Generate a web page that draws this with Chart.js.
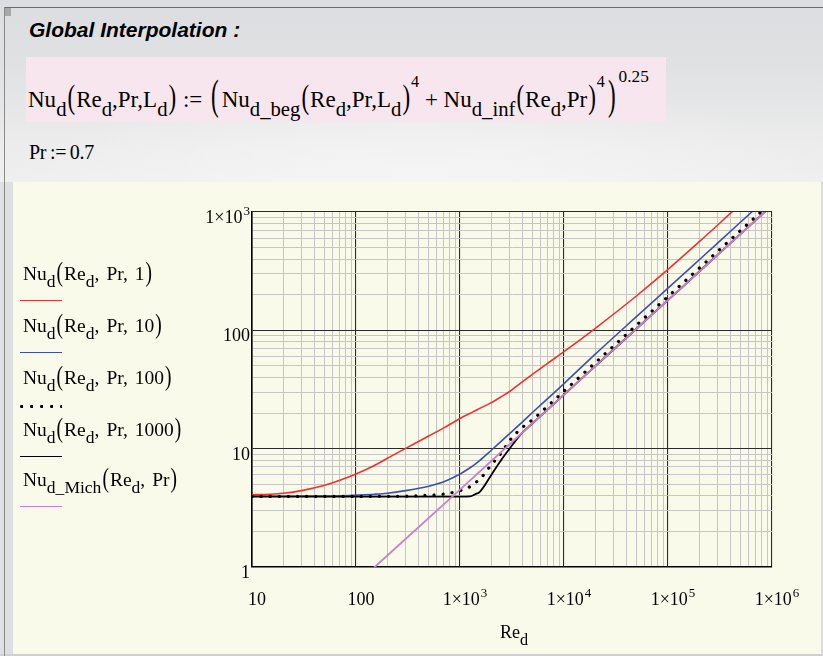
<!DOCTYPE html>
<html><head><meta charset="utf-8">
<script src="https://cdn.jsdelivr.net/npm/chart.js@4/dist/chart.umd.min.js"></script>
<style>
html,body{margin:0;padding:0;}
body{width:823px;height:656px;position:relative;overflow:hidden;background:#f4f4f4;font-family:"Liberation Serif","Times New Roman",serif;color:#000;}
#top{position:absolute;left:0;top:0;width:823px;height:182px;
 background:radial-gradient(ellipse 420px 110px at 420px 190px,#f6f6f6 0%,rgba(246,246,246,0) 100%),linear-gradient(to bottom,#dcdde0 0%,#e0e1e3 35%,#ececec 80%,#efefef 100%);}
#topline{position:absolute;left:4px;top:7px;width:819px;height:1px;background:#6a6a6a;}
#leftline{position:absolute;left:4px;top:7px;width:1px;height:649px;background:#8a8a8a;}
#sq{position:absolute;left:5px;top:8px;width:6px;height:8px;background:#a8a8a8;}
#title{position:absolute;left:29px;top:18px;font-family:"Liberation Sans",Arial,sans-serif;font-weight:bold;font-style:italic;font-size:21px;line-height:24px;white-space:nowrap;}
#formula{position:absolute;left:26px;top:57px;width:640px;height:65px;background:#f8e6ee;}
.f{position:absolute;white-space:nowrap;font-size:23px;line-height:34px;}
.f sub,.lg sub,#xt sub{font-size:0.9em;vertical-align:-0.42em;line-height:0;}
.f sup{font-size:0.7em;vertical-align:1.25em;line-height:0;}
.bp{display:inline-block;transform:scale(1,1.45);transform-origin:50% 62%;margin:0 1px;}
.bp2{display:inline-block;transform:scale(1,1.8);transform-origin:50% 62%;margin:0 3px;}
.lg .bp{transform:scale(1,1.45);}
.cm{margin-right:7px;}
#pr{position:absolute;left:29px;top:138px;font-size:20px;line-height:28px;white-space:nowrap;letter-spacing:-0.3px;}
#bottom{position:absolute;left:13px;top:182px;width:808px;height:472px;background:#fafaeb;}
#leftstrip{position:absolute;left:0;top:182px;width:13px;height:474px;background:#dedfe1;}
#botline{position:absolute;left:0;top:654px;width:823px;height:2px;background:#d0d0d0;}
#rightline{position:absolute;left:821px;top:182px;width:2px;height:474px;background:#dcdcdc;}
canvas#c{position:absolute;left:13px;top:182px;}
.lg{position:absolute;left:23px;font-size:19.5px;line-height:24px;white-space:nowrap;}
.ln{position:absolute;left:20px;width:42px;height:0;}
#xt{position:absolute;left:500px;top:620px;font-size:18px;line-height:24px;}
</style></head>
<body>
<div id="top"></div>
<div id="topline"></div>
<div id="sq"></div>
<div id="title">Global Interpolation :</div>
<div id="formula"></div>
<div class="f" style="left:28px;top:77px;">Nu<sub>d</sub><span class="bp">(</span>Re<sub>d</sub>,Pr,L<sub>d</sub><span class="bp">)</span> := <span class="bp2">(</span>Nu<sub>d_beg</sub><span class="bp">(</span>Re<sub>d</sub>,Pr,L<sub>d</sub><span class="bp">)</span><sup>4</sup> + Nu<sub>d_inf</sub><span class="bp">(</span>Re<sub>d</sub>,Pr<span class="bp">)</span><sup>4</sup><span class="bp2">)</span><sup style="font-size:0.75em;vertical-align:1.45em">0.25</sup></div>
<div id="pr">Pr&thinsp;:=&thinsp;0.7</div>
<div id="leftstrip"></div>
<div id="bottom"></div>
<div id="rightline"></div>
<div id="botline"></div>
<div id="leftline"></div>
<canvas id="c" width="808" height="472"></canvas>

<div class="lg" style="top:262px;">Nu<sub>d</sub><span class="bp">(</span>Re<sub>d</sub><span class="cm">,</span>Pr<span class="cm">,</span>1<span class="bp">)</span></div>
<div class="ln" style="top:300px;border-top:1.5px solid #f03030;"></div>
<div class="lg" style="top:314px;">Nu<sub>d</sub><span class="bp">(</span>Re<sub>d</sub><span class="cm">,</span>Pr<span class="cm">,</span>10<span class="bp">)</span></div>
<div class="ln" style="top:352px;border-top:1.5px solid #3c50aa;"></div>
<div class="lg" style="top:366px;">Nu<sub>d</sub><span class="bp">(</span>Re<sub>d</sub><span class="cm">,</span>Pr<span class="cm">,</span>100<span class="bp">)</span></div>
<div class="ln" style="top:405px;height:3px;background:radial-gradient(circle 1.6px at 1.7px 1.5px,#000 0,#000 1.5px,transparent 1.7px);background-size:10px 3px;"></div>
<div class="lg" style="top:418px;">Nu<sub>d</sub><span class="bp">(</span>Re<sub>d</sub><span class="cm">,</span>Pr<span class="cm">,</span>1000<span class="bp">)</span></div>
<div class="ln" style="top:456px;border-top:1.5px solid #000;"></div>
<div class="lg" style="top:468px;">Nu<sub>d_Mich</sub><span class="bp">(</span>Re<sub>d</sub><span class="cm">,</span>Pr<span class="bp">)</span></div>
<div class="ln" style="top:506px;border-top:1.5px solid #cc80c8;"></div>
<div id="xt">Re<sub>d</sub></div>

<script>
// ---- data ----
const reGrid  = [10, 15, 20, 30, 50, 70, 100, 150, 200, 300, 500, 700, 1000, 1250, 1400, 1550, 2000, 2500, 3000, 3800, 5000, 7000, 1e4, 2e4, 5e4, 1e5, 2e5, 5e5, 1e6];
const nuL1    = [4.08, 4.12, 4.2, 4.42, 4.9, 5.4, 6.1, 7.2, 8.3, 10.05, 12.8, 15.0, 18.0, 19.9, 20.9, 21.9, 24.5, 27.5, 30.4, 35.6, 42.6, 52.8, 66, 104, 196, 327, 561, 1168, 2000];
const nuL10   = [3.96, 3.96, 3.96, 3.97, 3.98, 4.0, 4.05, 4.12, 4.2, 4.42, 4.82, 5.25, 6.1, 6.9, 7.4, 7.95, 9.7, 11.6, 13.4, 16.2, 20.3, 26.6, 35.5, 63, 131, 227, 395, 823, 1430];
const nuL100  = [3.95, 3.95, 3.95, 3.95, 3.95, 3.95, 3.95, 3.96, 3.96, 3.97, 4.04, 4.13, 4.42, 4.78, 5.15, 5.5, 7.3, 9.24, 11.7, 14.6, 17.6, 23.0, 30.6, 53.3, 111, 193, 336, 699, 1217];
const nuL1000 = [3.93, 3.93, 3.93, 3.93, 3.93, 3.93, 3.93, 3.93, 3.93, 3.93, 3.93, 3.93, 3.93, 3.95, 4.12, 4.32, 6.0, 8.06, 10.0, 13.1, 16.4, 21.5, 28.6, 49.8, 103.7, 180, 314, 653, 1137];
const reMich  = [100, 1000, 1e4, 1e5, 1e6];
const nuMich  = [0.72, 4.5, 28.6, 180, 1137];
const xTickValues   = [10, 100, 1000, 1e4, 1e5, 1e6];
const xTickMantissa = ['10', '100', '1×10', '1×10', '1×10', '1×10'];
const xTickPower    = ['', '', '3', '4', '5', '6'];
const yTickValues   = [1, 10, 100, 1000];
const yTickMantissa = ['1', '10', '100', '1×10'];
const yTickPower    = ['', '', '', '3'];

function pts(xs, ys){ return xs.map((x, i) => ({x: x, y: ys[i]})); }
function gridValues(min, max){
  const out = [];
  for (let e = Math.round(Math.log10(min)); e < Math.round(Math.log10(max)); e++){
    for (let m = 1; m < 10; m++) out.push(Math.round(m * Math.pow(10, e) * 1e6) / 1e6);
  }
  out.push(max);
  return out;
}
const isDecade = v => Math.abs(Math.log10(v) - Math.round(Math.log10(v))) < 1e-9;
const gridColor = c => (c.tick && isDecade(c.tick.value)) ? '#2a2a2a' : '#c6c6c6';
const gridWidth = c => (c.tick && isDecade(c.tick.value)) ? 1.1 : 1;

const FONT = '"Liberation Serif", "Times New Roman", serif';
const supTicks = {
  id: 'supTicks',
  afterDraw(chart){
    const ctx = chart.ctx, xs = chart.scales.x, ys = chart.scales.y;
    ctx.save();
    ctx.fillStyle = '#000';
    ctx.textBaseline = 'alphabetic';
    ctx.textAlign = 'left';
    const draw = (base, pow, anchorX, baseY, align) => {
      ctx.font = '18px ' + FONT; const wb = ctx.measureText(base).width;
      ctx.font = '13px ' + FONT; const wp = pow ? ctx.measureText(pow).width + 1 : 0;
      const x0 = align === 'center' ? anchorX - (wb + wp) / 2 : anchorX - (wb + wp);
      ctx.font = '18px ' + FONT; ctx.fillText(base, x0, baseY);
      if (pow){ ctx.font = '13px ' + FONT; ctx.fillText(pow, x0 + wb + 1, baseY - 8); }
    };
    xTickValues.forEach((v, i) => draw(xTickMantissa[i], xTickPower[i], xs.getPixelForValue(v) + 5, xs.top + 38, 'center'));
    yTickValues.forEach((v, i) => draw(yTickMantissa[i], yTickPower[i], ys.right - 2, ys.getPixelForValue(v) + 11, 'right'));
    ctx.restore();
  }
};

const common = {pointRadius: 0, fill: false, clip: 0, cubicInterpolationMode: 'monotone'};
new Chart(document.getElementById('c').getContext('2d'), {
  type: 'line',
  data: { datasets: [
    Object.assign({label: 'Nu_d(Re_d, Pr, 1)', data: pts(reGrid, nuL1), borderColor: '#f03030', borderWidth: 1.6, order: 4}, common),
    Object.assign({label: 'Nu_d(Re_d, Pr, 10)', data: pts(reGrid, nuL10), borderColor: '#3c50aa', borderWidth: 1.6, order: 3}, common),
    Object.assign({label: 'Nu_d(Re_d, Pr, 100)', data: pts(reGrid, nuL100), borderColor: '#000', borderWidth: 3.2, borderDash: [0.1, 9], borderCapStyle: 'round', order: 2}, common),
    Object.assign({label: 'Nu_d(Re_d, Pr, 1000)', data: pts(reGrid, nuL1000), borderColor: '#000', borderWidth: 1.8, order: 1}, common),
    Object.assign({label: 'Nu_d_Mich(Re_d, Pr)', data: pts(reMich, nuMich), borderColor: '#cc80c8', borderWidth: 1.8, order: 0}, common)
  ]},
  plugins: [supTicks],
  options: {
    responsive: false, animation: false, devicePixelRatio: 1,
    layout: { padding: { left: 0, right: 49, top: 30, bottom: 0 } },
    plugins: { legend: { display: false }, tooltip: { enabled: false } },
    scales: {
      x: {
        type: 'logarithmic', min: 10, max: 1e6,
        afterBuildTicks: s => { s.ticks = gridValues(10, 1e6).map(v => ({value: v})); },
        afterFit: s => { s.height = 87; },
        ticks: { display: false, autoSkip: false },
        grid: { drawTicks: false, color: gridColor, lineWidth: gridWidth },
        border: { display: true, color: '#000', width: 1.6 }
      },
      y: {
        type: 'logarithmic', min: 1, max: 1000,
        afterBuildTicks: s => { s.ticks = gridValues(1, 1000).map(v => ({value: v})); },
        afterFit: s => { s.width = 239; },
        ticks: { display: false, autoSkip: false },
        grid: { drawTicks: false, color: gridColor, lineWidth: gridWidth },
        border: { display: true, color: '#000', width: 1.6 }
      }
    }
  }
});
</script>
</body></html>
